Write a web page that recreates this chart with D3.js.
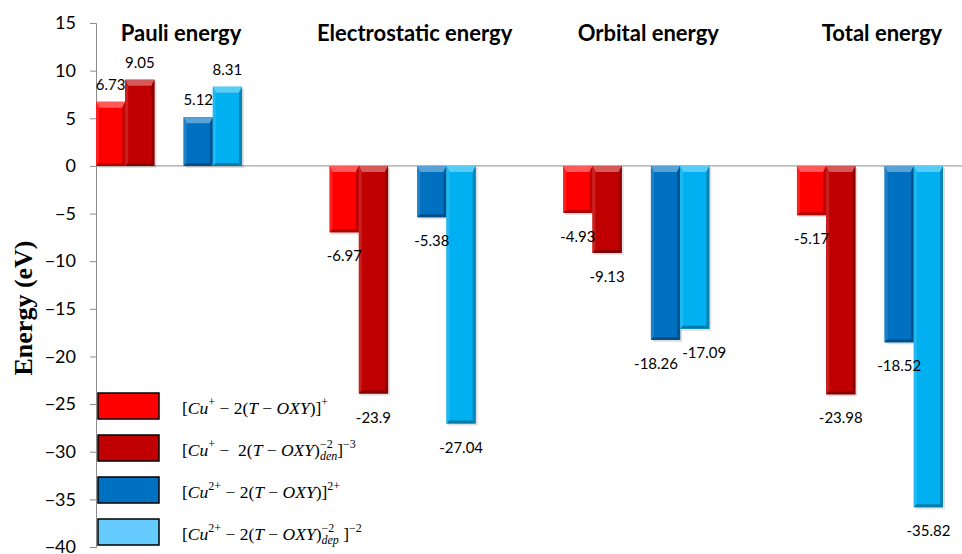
<!DOCTYPE html>
<html><head><meta charset="utf-8">
<script src="https://cdn.jsdelivr.net/npm/d3@7"></script>
<style>
html,body{margin:0;padding:0;background:#fff;}
svg{display:block;}
</style></head>
<body>
<svg id="chart" width="962" height="554"></svg>
<script>
const categories = ["Pauli energy", "Electrostatic energy", "Orbital energy", "Total energy"];
const seriesNames = ["Cu+ - 2(T-OXY)", "Cu+ - 2(T-OXY)dep", "Cu2+ - 2(T-OXY)", "Cu2+ - 2(T-OXY)dep"];
const s1 = [6.73, -6.97, -4.93, -5.17];
const s2 = [9.05, -23.9, -9.13, -23.98];
const s3 = [5.12, -5.38, -18.26, -18.52];
const s4 = [8.31, -27.04, -17.09, -35.82];
const barColors = ["#FF0000", "#C00000", "#0070C0", "#00B0F0"];
const legendColors = ["#FF0000", "#C00000", "#0070C0", "#66CCFF"];
const yTicks = [15, 10, 5, 0, -5, -10, -15, -20, -25, -30, -35, -40];

const svg = d3.select("#chart");
const seriesVals = [s1, s2, s3, s4];
const slots = ["a", "b", "gap", "c", "d"];
const seriesSlot = ["a", "b", "c", "d"];

const y = d3.scaleLinear().domain([-40, 15]).range([547, 23]);
const x0 = d3.scaleBand().domain(categories).range([96, 943]).paddingInner(0.375).paddingOuter(0);
const x1 = d3.scaleBand().domain(slots).range([0, x0.bandwidth()]);

// zero line
svg.append("line").attr("x1", 96).attr("x2", 962).attr("y1", y(0)).attr("y2", y(0))
  .attr("stroke", "#8c8c8c").attr("stroke-width", 1);

// y axis
const yAxis = d3.axisLeft(y).tickValues(yTicks).tickSize(6).tickPadding(14).tickFormat(d3.format("d"));
const gy = svg.append("g").attr("transform", "translate(96,0)").call(yAxis);
gy.select(".domain").attr("stroke", "#8c8c8c");
gy.selectAll(".tick line").attr("stroke", "#8c8c8c");
gy.selectAll(".tick text").attr("font-family", "Lato, 'Open Sans', sans-serif").attr("font-size", 18).attr("fill", "#000");

// axis title
svg.append("text").attr("transform", "translate(32,308) rotate(-90)")
  .attr("text-anchor", "middle").attr("font-family", "'Liberation Serif', 'Times New Roman', serif")
  .attr("font-weight", "bold").attr("font-size", 26).text("Energy (eV)");

// data
const data = [];
categories.forEach((c, ci) => seriesVals.forEach((arr, si) => data.push({cat: c, si, value: arr[ci]})));

const mix = (c, t, k) => d3.interpolateRgb(c, t)(k);
const bars = svg.append("g").selectAll("g.bar").data(data).join("g").attr("class", "bar");
bars.each(function(d) {
  const g = d3.select(this);
  const x = x0(d.cat) + x1(seriesSlot[d.si]);
  const w = x1.bandwidth();
  const top = Math.min(y(0), y(d.value));
  const bot = Math.max(y(0), y(d.value));
  const c = barColors[d.si];
  const bt = 6, bs = 3;
  g.append("rect").attr("x", x + 2).attr("y", top + 2).attr("width", w).attr("height", bot - top)
    .attr("fill", "#000").attr("opacity", 0.12);
  g.append("rect").attr("x", x).attr("y", top).attr("width", w).attr("height", bot - top).attr("fill", c);
  const poly = pts => g.append("polygon").attr("points", pts.map(p => p.join(",")).join(" "));
  poly([[x, top], [x + w, top], [x + w - bs, top + bt], [x + bs, top + bt]]).attr("fill", mix(c, "#fff", 0.35));
  poly([[x, top], [x + bs, top + bt], [x + bs, bot - bs], [x, bot]]).attr("fill", mix(c, "#fff", 0.12));
  poly([[x + w, top], [x + w, bot], [x + w - bs, bot - bs], [x + w - bs, top + bt]]).attr("fill", mix(c, "#000", 0.25));
  poly([[x, bot], [x + bs, bot - bs], [x + w - bs, bot - bs], [x + w, bot]]).attr("fill", mix(c, "#000", 0.3));
});

// data labels
const labels = svg.append("g").selectAll("text").data(data).join("text")
  .attr("x", d => x0(d.cat) + x1(seriesSlot[d.si]) + x1.bandwidth() / 2)
  .attr("y", d => d.value >= 0 ? y(d.value) - 12 : y(d.value) + 29)
  .attr("text-anchor", "middle")
  .attr("font-family", "Lato, 'Open Sans', sans-serif").attr("font-size", 15).attr("fill", "#000")
  .text(d => String(d.value));
const nodes = labels.nodes();
for (let i = 0; i < nodes.length; i++) {
  for (let j = i + 1; j < nodes.length; j++) {
    const a = nodes[i].getBBox(), b = nodes[j].getBBox();
    const ox = Math.min(a.x + a.width, b.x + b.width) - Math.max(a.x, b.x);
    const oy = Math.min(a.y + a.height, b.y + b.height) - Math.max(a.y, b.y);
    if (ox > 0 && oy > 0) {
      const shift = ox / 2 + 2;
      d3.select(nodes[i]).attr("x", +nodes[i].getAttribute("x") - shift);
      d3.select(nodes[j]).attr("x", +nodes[j].getAttribute("x") + shift);
    }
  }
}

// category titles
svg.append("g").selectAll("text").data(categories).join("text")
  .attr("x", d => x0(d) + x0.bandwidth() / 2 + 12)
  .attr("y", 41)
  .attr("text-anchor", "middle")
  .attr("font-family", "Lato, 'Open Sans', sans-serif").attr("font-weight", "bold").attr("font-size", 22)
  .text(d => d);

// legend
const legendItems = [
  [["[", "n"], ["Cu", "i"], ["+", "sup"], [" \u2212 2(", "n"], ["T", "i"], [" \u2212 ", "n"], ["OXY", "i"], [")]", "n"], ["+", "sup"]],
  [["[", "n"], ["Cu", "i"], ["+", "sup"], [" \u2212  2(", "n"], ["T", "i"], [" \u2212 ", "n"], ["OXY", "i"], [")", "n"], [["\u22122", "den"], "ss"], ["]", "n"], ["\u22123", "sup"]],
  [["[", "n"], ["Cu", "i"], ["2+", "sup"], [" \u2212 2(", "n"], ["T", "i"], [" \u2212 ", "n"], ["OXY", "i"], [")]", "n"], ["2+", "sup"]],
  [["[", "n"], ["Cu", "i"], ["2+", "sup"], [" \u2212 2(", "n"], ["T", "i"], [" \u2212 ", "n"], ["OXY", "i"], [")", "n"], [["\u22122", "dep"], "ss"], [" ]", "n"], ["\u22122", "sup"]]
];
const legY = d3.scaleLinear().domain([0, 3]).range([406, 532]);
const lg = svg.append("g");
const font = "'Liberation Serif', 'DejaVu Serif', serif";
const measure = (txt, size, italic) => {
  const t = svg.append("text").attr("font-family", font).attr("font-size", size)
    .attr("font-style", italic ? "italic" : "normal").style("white-space", "pre").text(txt);
  const w = t.node().getComputedTextLength();
  t.remove();
  return w;
};
legendItems.forEach((pieces, i) => {
  const cy = legY(i);
  lg.append("rect").attr("x", 98).attr("y", cy - 13).attr("width", 61).attr("height", 26)
    .attr("fill", legendColors[i]).attr("stroke", "#000").attr("stroke-width", 1.5);
  const t = lg.append("text").attr("x", 182).attr("y", cy + 8).attr("font-family", font)
    .attr("font-size", 17.5).style("white-space", "pre");
  let level = 0;
  const span = (txt, size, italic, newLevel, dx) => {
    const s = t.append("tspan").attr("font-size", size).attr("font-style", italic ? "italic" : "normal")
      .attr("dy", newLevel - level).text(txt);
    if (dx) s.attr("dx", dx);
    level = newLevel;
  };
  pieces.forEach(([txt, st]) => {
    if (st === "n") span(txt, 17.5, false, 0);
    else if (st === "i") span(txt, 17.5, true, 0);
    else if (st === "sup") span(txt, 12, false, -8);
    else if (st === "ss") {
      const wa = measure(txt[0], 12, false), wb = measure(txt[1], 12, true);
      span(txt[0], 12, false, -8);
      span(txt[1], 12, true, 4, -wa);
      if (wa > wb) span("", 12, false, 4, wa - wb);
    }
  });
  // return to baseline not needed for subsequent items since each line is its own text
});
</script>
</body></html>
